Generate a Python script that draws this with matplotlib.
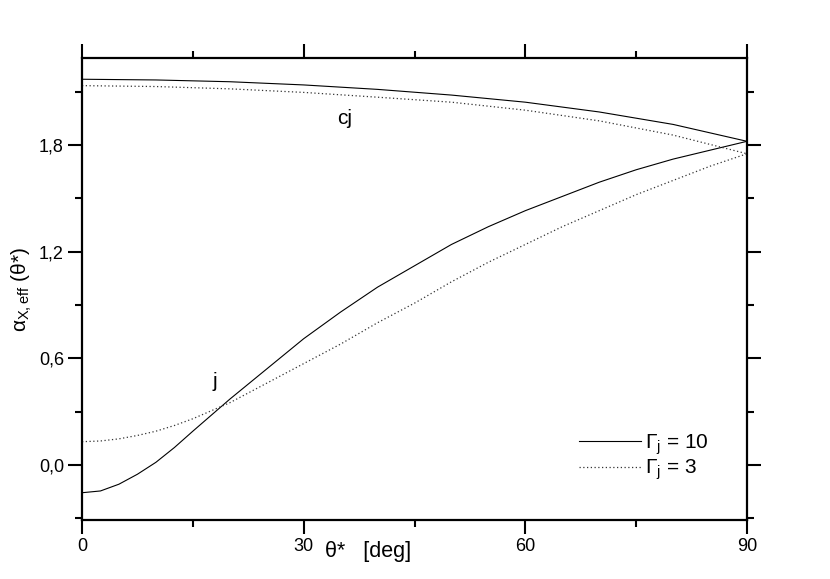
import matplotlib
matplotlib.use("Agg")
import matplotlib.pyplot as plt
from matplotlib.ticker import FixedLocator, FuncFormatter

plt.rcParams['font.family'] = ['Liberation Sans', 'DejaVu Sans']
plt.rcParams['mathtext.fontset'] = 'custom'
plt.rcParams['mathtext.rm'] = 'Liberation Sans'
plt.rcParams['mathtext.it'] = 'Liberation Sans'

theta_j = [0, 2.5, 5, 7.5, 10, 12.5, 15, 20, 25, 30, 35, 40, 45, 50, 55, 60, 65, 70, 75, 80, 85, 90]
j_g10 = [-0.156, -0.146, -0.108, -0.052, 0.015, 0.098, 0.19, 0.37, 0.54, 0.71, 0.86, 1.00,
         1.12, 1.24, 1.34, 1.43, 1.51, 1.59, 1.66, 1.72, 1.77, 1.82]
j_g3 = [0.131, 0.135, 0.147, 0.166, 0.19, 0.222, 0.26, 0.35, 0.46, 0.57, 0.68, 0.80,
        0.91, 1.03, 1.14, 1.24, 1.34, 1.43, 1.52, 1.60, 1.68, 1.75]
theta_cj = [0, 10, 20, 30, 40, 50, 60, 70, 80, 90]
cj_g10 = [2.169, 2.165, 2.155, 2.137, 2.112, 2.080, 2.040, 1.985, 1.915, 1.82]
cj_g3 = [2.133, 2.128, 2.115, 2.095, 2.068, 2.040, 1.995, 1.935, 1.855, 1.75]

x_ticks = [0, 30, 60, 90]
y_ticks = [0.0, 0.6, 1.2, 1.8]

fig = plt.figure(figsize=(8.30, 5.79), dpi=100)
ax = fig.add_axes([0.0988, 0.102, 0.8012, 0.798])

solid = dict(color='black', lw=0.8, linestyle='-')
dotted = dict(color='#333333', lw=0.9, linestyle=(0, (1, 2)))

l1, = ax.plot(theta_j, j_g10, **solid, label=r'$\Gamma_{\rm j}$ = 10')
ax.plot(theta_cj, cj_g10, **solid)
l2, = ax.plot(theta_j, j_g3, **dotted, label=r'$\Gamma_{\rm j}$ = 3')
ax.plot(theta_cj, cj_g3, **dotted)

ax.set_xlim(0, 90)
ax.set_ylim(-0.309, 2.289)

ax.xaxis.set_major_locator(FixedLocator(x_ticks))
ax.xaxis.set_minor_locator(FixedLocator([15, 45, 75]))
ax.yaxis.set_major_locator(FixedLocator(y_ticks))
ax.yaxis.set_minor_locator(FixedLocator([-0.3, 0.3, 0.9, 1.5, 2.1]))
ax.yaxis.set_major_formatter(FuncFormatter(lambda v, p: f"{v:.1f}".replace('.', ',')))
ax.xaxis.set_major_formatter(FuncFormatter(lambda v, p: f"{int(round(v))}"))

ax.tick_params(which='both', direction='out', top=True, right=True, width=1.5,
               labelsize=13, pad=3)
ax.tick_params(which='major', length=10)
ax.tick_params(which='minor', length=5)
for s in ax.spines.values():
    s.set_linewidth(1.6)

ax.set_xlabel('θ*   [deg]', fontsize=15.5, labelpad=0)
ax.xaxis.set_label_coords(0.43, -0.045)
ax.set_ylabel(r'$\alpha_{\rm X,eff}$ (θ*)', fontsize=15)
ax.yaxis.set_label_coords(-0.072, 0.5)

ax.text(35.6, 1.95, 'cj', fontsize=15, ha='center', va='center')
ax.text(18.0, 0.47, 'j', fontsize=15, ha='center', va='center')

ax.legend(handles=[l1, l2], loc='lower right', bbox_to_anchor=(0.97, 0.041),
          frameon=False, fontsize=15, handlelength=3.0, handletextpad=0.15,
          labelspacing=0.05)

fig.savefig('out.png', dpi=100)
